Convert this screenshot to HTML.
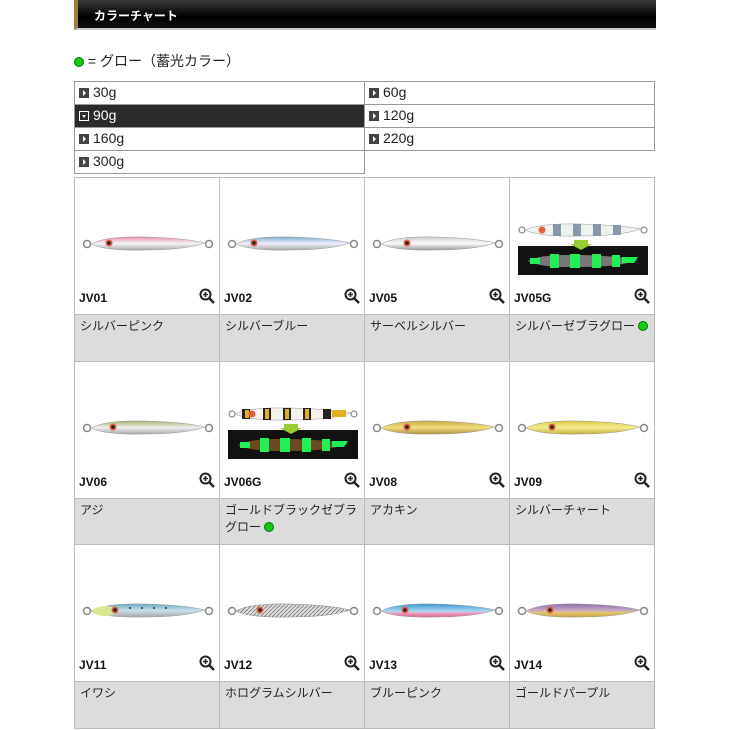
<!DOCTYPE html>
<html><head><meta charset="utf-8"><style>
*{margin:0;padding:0;box-sizing:border-box}
body{width:730px;height:730px;background:#fff;position:relative;font-family:"Liberation Sans","Noto Sans CJK JP",sans-serif;overflow:hidden}
.hdr{position:absolute;left:74px;top:0;width:582px;height:30px;background:linear-gradient(#3a3a3a,#000 60%,#111);border-left:4px solid #a08040;border-bottom:2px solid #ccc}
.hdr span{position:absolute;left:16px;top:7px;color:#fff;font-size:12px;font-weight:bold}
.legend{position:absolute;left:74px;top:51px;font-size:14px;color:#222}
.dot{display:inline-block;width:10px;height:10px;border-radius:50%;background:#1c1;border:1px solid #070;vertical-align:-1px}
.sz{position:absolute;height:24px;border:1px solid #999;font-size:14px;color:#222;padding:2px 0 0 4px;background:#fff}
.sz i{display:inline-block;width:10px;height:10px;background:#444;margin-right:4px;vertical-align:-1px;position:relative}
.sz i:after{content:"";position:absolute;left:4px;top:2px;border-left:3px solid #fff;border-top:3px solid transparent;border-bottom:3px solid transparent}
.sz.on{background:#2b2b2b;color:#fff}
.sz.on i{background:#2b2b2b;border:1px solid #fff}
.sz.on i:after{left:1.5px;top:3px;border-top:3px solid #fff;border-left:2.5px solid transparent;border-right:2.5px solid transparent;border-bottom:0}
.cell{position:absolute;width:146px;height:185px;border:1px solid #bbb;background:#fff}
.cell .g{position:absolute;left:0;right:0;bottom:0;height:47px;background:#dcdcdc;border-top:1px solid #bbb;font-size:12px;color:#222;padding:3px 5px;line-height:17px}
.cell .c{position:absolute;left:4px;top:113px;font-size:12px;font-weight:bold;color:#111}
.cell .z{position:absolute;right:4px;top:110px;width:16px;height:16px}
.cell svg.l{position:absolute;left:0;top:0}
</style></head><body>
<div class="hdr"><span>カラーチャート</span></div>
<div class="legend"><span class="dot"></span> = グロー（蓄光カラー）</div>

<div class="sz" style="left:74px;top:81px;width:291px"><i></i>30g</div>
<div class="sz on" style="left:74px;top:104px;width:291px"><i></i>90g</div>
<div class="sz" style="left:74px;top:127px;width:291px"><i></i>160g</div>
<div class="sz" style="left:74px;top:150px;width:291px"><i></i>300g</div>
<div class="sz" style="left:364px;top:81px;width:291px"><i></i>60g</div>
<div class="sz" style="left:364px;top:104px;width:291px"><i></i>120g</div>
<div class="sz" style="left:364px;top:127px;width:291px"><i></i>220g</div>

<svg width="0" height="0" style="position:absolute"><defs>
<symbol id="zm" viewBox="0 0 16 16"><circle cx="6.5" cy="6.5" r="5" fill="none" stroke="#222" stroke-width="2"/><path d="M10 10L15 15" stroke="#222" stroke-width="2.5"/><path d="M4 6.5h5M6.5 4v5" stroke="#222" stroke-width="1.6"/></symbol>
</defs></svg>

<div class="cell" style="left:74px;top:177px"><svg class="l" width="146" height="137"><defs><linearGradient id="a1" x1="0" y1="0" x2="0" y2="1"><stop offset="0" stop-color="#e890a8"/><stop offset=".5" stop-color="#f4f4f4"/><stop offset="1" stop-color="#aaa"/></linearGradient></defs><circle cx="12" cy="66" r="3.5" fill="none" stroke="#888" stroke-width="1.5"/><circle cx="134" cy="66" r="3.5" fill="none" stroke="#888" stroke-width="1.5"/><path d="M16,66 Q30,58 70,59 Q110,60 130,65 Q110,72 70,72 Q30,73 16,66Z" fill="url(#a1)" stroke="#999" stroke-width=".5"/><circle cx="34" cy="65" r="3.5" fill="#e06040"/><circle cx="34" cy="65" r="1.7" fill="#222"/></svg><div class="c">JV01</div><svg class="z"><use href="#zm"/></svg><div class="g">シルバーピンク</div></div>

<div class="cell" style="left:219px;top:177px"><svg class="l" width="146" height="137"><defs><linearGradient id="a2" x1="0" y1="0" x2="0" y2="1"><stop offset="0" stop-color="#80b0cc"/><stop offset=".5" stop-color="#eef"/><stop offset="1" stop-color="#aaa"/></linearGradient></defs><circle cx="12" cy="66" r="3.5" fill="none" stroke="#888" stroke-width="1.5"/><circle cx="134" cy="66" r="3.5" fill="none" stroke="#888" stroke-width="1.5"/><path d="M16,66 Q30,58 70,59 Q110,60 130,65 Q110,72 70,72 Q30,73 16,66Z" fill="url(#a2)" stroke="#999" stroke-width=".5"/><circle cx="34" cy="65" r="3.5" fill="#e06040"/><circle cx="34" cy="65" r="1.7" fill="#222"/></svg><div class="c">JV02</div><svg class="z"><use href="#zm"/></svg><div class="g">シルバーブルー</div></div>

<div class="cell" style="left:364px;top:177px"><svg class="l" width="146" height="137"><defs><linearGradient id="a3" x1="0" y1="0" x2="0" y2="1"><stop offset="0" stop-color="#ccc"/><stop offset=".5" stop-color="#fafafa"/><stop offset="1" stop-color="#999"/></linearGradient></defs><circle cx="12" cy="66" r="3.5" fill="none" stroke="#888" stroke-width="1.5"/><circle cx="134" cy="66" r="3.5" fill="none" stroke="#888" stroke-width="1.5"/><path d="M16,66 Q30,58 70,59 Q110,60 130,65 Q110,72 70,72 Q30,73 16,66Z" fill="url(#a3)" stroke="#999" stroke-width=".5"/><circle cx="42" cy="65" r="3.5" fill="#e06040"/><circle cx="42" cy="65" r="1.7" fill="#222"/></svg><div class="c">JV05</div><svg class="z"><use href="#zm"/></svg><div class="g">サーベルシルバー</div></div>

<div class="cell" style="left:509px;top:177px"><svg class="l" width="146" height="137"><circle cx="12" cy="52" r="3" fill="none" stroke="#888" stroke-width="1.2"/><circle cx="134" cy="52" r="3" fill="none" stroke="#888" stroke-width="1.2"/><path d="M15,52 Q30,45 70,46 Q110,47 131,51 Q110,58 70,58 Q30,59 15,52Z" fill="#eef2ee" stroke="#999" stroke-width=".5"/><g fill="#8898a8"><rect x="43" y="46" width="8" height="12"/><rect x="63" y="46" width="8" height="12"/><rect x="83" y="46" width="8" height="12"/><rect x="103" y="47" width="8" height="10"/></g><circle cx="32" cy="52" r="3.5" fill="#e06040"/><rect x="8" y="68" width="130" height="29" fill="#111"/><path d="M64,62h14v4h4l-11,6-11-6h4z" fill="#9c3"/><path d="M18,83 Q30,76 70,77 Q110,78 128,82 Q110,89 70,89 Q30,90 18,83Z" fill="#777"/><g fill="#2e5"><rect x="40" y="76" width="9" height="14"/><rect x="60" y="76" width="10" height="14"/><rect x="82" y="76" width="9" height="14"/><rect x="102" y="77" width="8" height="12"/><path d="M112,79h16l-4,6h-12z"/><rect x="20" y="80" width="10" height="6"/></g></svg><div class="c">JV05G</div><svg class="z"><use href="#zm"/></svg><div class="g">シルバーゼブラグロー <span class="dot"></span></div></div>

<div class="cell" style="left:74px;top:361px"><svg class="l" width="146" height="137"><defs><linearGradient id="b1" x1="0" y1="0" x2="0" y2="1"><stop offset="0" stop-color="#a8b070"/><stop offset=".5" stop-color="#eee"/><stop offset="1" stop-color="#aaa"/></linearGradient></defs><circle cx="12" cy="66" r="3.5" fill="none" stroke="#888" stroke-width="1.5"/><circle cx="134" cy="66" r="3.5" fill="none" stroke="#888" stroke-width="1.5"/><path d="M16,66 Q30,58 70,59 Q110,60 130,65 Q110,72 70,72 Q30,73 16,66Z" fill="url(#b1)" stroke="#999" stroke-width=".5"/><circle cx="38" cy="65" r="3.5" fill="#e06040"/><circle cx="38" cy="65" r="1.7" fill="#222"/></svg><div class="c">JV06</div><svg class="z"><use href="#zm"/></svg><div class="g">アジ</div></div>

<div class="cell" style="left:219px;top:361px"><svg class="l" width="146" height="137"><circle cx="12" cy="52" r="3" fill="none" stroke="#888" stroke-width="1.2"/><circle cx="134" cy="52" r="3" fill="none" stroke="#888" stroke-width="1.2"/><path d="M15,52 Q30,45 70,46 Q110,47 131,51 Q110,58 70,58 Q30,59 15,52Z" fill="#f4f4ea" stroke="#999" stroke-width=".5"/><g fill="#222"><rect x="22" y="47" width="8" height="10"/><rect x="43" y="46" width="8" height="12"/><rect x="63" y="46" width="8" height="12"/><rect x="83" y="46" width="8" height="12"/><rect x="103" y="47" width="8" height="10"/></g><g fill="#e0b020"><rect x="25" y="48" width="4" height="8"/><rect x="45" y="47" width="4" height="10"/><rect x="65" y="47" width="4" height="10"/><rect x="85" y="47" width="4" height="10"/><rect x="112" y="48" width="14" height="7"/></g><circle cx="32" cy="52" r="3.5" fill="#e06040"/><rect x="8" y="68" width="130" height="29" fill="#111"/><path d="M64,62h14v4h4l-11,6-11-6h4z" fill="#9c3"/><path d="M18,83 Q30,76 70,77 Q110,78 128,82 Q110,89 70,89 Q30,90 18,83Z" fill="#6a4a20"/><g fill="#2e5"><rect x="40" y="76" width="9" height="14"/><rect x="60" y="76" width="10" height="14"/><rect x="82" y="76" width="9" height="14"/><rect x="102" y="77" width="8" height="12"/><path d="M112,79h16l-4,6h-12z"/><rect x="20" y="80" width="10" height="6"/></g></svg><div class="c">JV06G</div><svg class="z"><use href="#zm"/></svg><div class="g">ゴールドブラックゼブラグロー <span class="dot"></span></div></div>

<div class="cell" style="left:364px;top:361px"><svg class="l" width="146" height="137"><defs><linearGradient id="b3" x1="0" y1="0" x2="0" y2="1"><stop offset="0" stop-color="#c8a840"/><stop offset=".5" stop-color="#f0e080"/><stop offset="1" stop-color="#b09040"/></linearGradient></defs><circle cx="12" cy="66" r="3.5" fill="none" stroke="#888" stroke-width="1.5"/><circle cx="134" cy="66" r="3.5" fill="none" stroke="#888" stroke-width="1.5"/><path d="M16,66 Q30,58 70,59 Q110,60 130,65 Q110,72 70,72 Q30,73 16,66Z" fill="url(#b3)" stroke="#999" stroke-width=".5"/><circle cx="42" cy="65" r="3.5" fill="#e06040"/><circle cx="42" cy="65" r="1.7" fill="#222"/></svg><div class="c">JV08</div><svg class="z"><use href="#zm"/></svg><div class="g">アカキン</div></div>

<div class="cell" style="left:509px;top:361px"><svg class="l" width="146" height="137"><defs><linearGradient id="b4" x1="0" y1="0" x2="0" y2="1"><stop offset="0" stop-color="#d8c840"/><stop offset=".5" stop-color="#f4ec90"/><stop offset="1" stop-color="#c8b040"/></linearGradient></defs><circle cx="12" cy="66" r="3.5" fill="none" stroke="#888" stroke-width="1.5"/><circle cx="134" cy="66" r="3.5" fill="none" stroke="#888" stroke-width="1.5"/><path d="M16,66 Q30,58 70,59 Q110,60 130,65 Q110,72 70,72 Q30,73 16,66Z" fill="url(#b4)" stroke="#999" stroke-width=".5"/><circle cx="42" cy="65" r="3.5" fill="#e06040"/><circle cx="42" cy="65" r="1.7" fill="#222"/></svg><div class="c">JV09</div><svg class="z"><use href="#zm"/></svg><div class="g">シルバーチャート</div></div>

<div class="cell" style="left:74px;top:544px"><svg class="l" width="146" height="137"><defs><linearGradient id="c1" x1="0" y1="0" x2="0" y2="1"><stop offset="0" stop-color="#6aa8c0"/><stop offset=".5" stop-color="#c8e0e8"/><stop offset="1" stop-color="#aaa"/></linearGradient></defs><circle cx="12" cy="66" r="3.5" fill="none" stroke="#888" stroke-width="1.5"/><circle cx="134" cy="66" r="3.5" fill="none" stroke="#888" stroke-width="1.5"/><path d="M16,66 Q30,58 70,59 Q110,60 130,65 Q110,72 70,72 Q30,73 16,66Z" fill="url(#c1)" stroke="#999" stroke-width=".5"/><ellipse cx="30" cy="66" rx="12" ry="5" fill="#d8e890"/><circle cx="40" cy="65" r="3.5" fill="#e06040"/><circle cx="40" cy="65" r="1.7" fill="#222"/><g fill="#234"><circle cx="55" cy="63" r="1"/><circle cx="67" cy="63" r="1"/><circle cx="79" cy="63" r="1"/><circle cx="91" cy="63" r="1"/></g></svg><div class="c">JV11</div><svg class="z"><use href="#zm"/></svg><div class="g">イワシ</div></div>

<div class="cell" style="left:219px;top:544px"><svg class="l" width="146" height="137"><defs><pattern id="h" width="4" height="4" patternUnits="userSpaceOnUse"><rect width="4" height="4" fill="#ddd"/><path d="M0,4L4,0" stroke="#777" stroke-width=".8"/></pattern></defs><circle cx="12" cy="66" r="3.5" fill="none" stroke="#888" stroke-width="1.5"/><circle cx="134" cy="66" r="3.5" fill="none" stroke="#888" stroke-width="1.5"/><path d="M16,66 Q30,58 70,59 Q110,60 130,65 Q110,72 70,72 Q30,73 16,66Z" fill="url(#h)" stroke="#888" stroke-width=".5"/><circle cx="40" cy="65" r="3.5" fill="#e06040"/><circle cx="40" cy="65" r="1.7" fill="#222"/></svg><div class="c">JV12</div><svg class="z"><use href="#zm"/></svg><div class="g">ホログラムシルバー</div></div>

<div class="cell" style="left:364px;top:544px"><svg class="l" width="146" height="137"><defs><linearGradient id="c3" x1="0" y1="0" x2="0" y2="1"><stop offset="0" stop-color="#3a98d0"/><stop offset=".55" stop-color="#a8d8f0"/><stop offset=".7" stop-color="#f0a0c0"/><stop offset="1" stop-color="#d86090"/></linearGradient></defs><circle cx="12" cy="66" r="3.5" fill="none" stroke="#888" stroke-width="1.5"/><circle cx="134" cy="66" r="3.5" fill="none" stroke="#888" stroke-width="1.5"/><path d="M16,66 Q30,58 70,59 Q110,60 130,65 Q110,72 70,72 Q30,73 16,66Z" fill="url(#c3)" stroke="#999" stroke-width=".5"/><circle cx="40" cy="65" r="3.5" fill="#e06040"/><circle cx="40" cy="65" r="1.7" fill="#222"/></svg><div class="c">JV13</div><svg class="z"><use href="#zm"/></svg><div class="g">ブルーピンク</div></div>

<div class="cell" style="left:509px;top:544px"><svg class="l" width="146" height="137"><defs><linearGradient id="c4" x1="0" y1="0" x2="0" y2="1"><stop offset="0" stop-color="#9070a8"/><stop offset=".5" stop-color="#c8a8c8"/><stop offset=".65" stop-color="#e0c870"/><stop offset="1" stop-color="#c8a040"/></linearGradient></defs><circle cx="12" cy="66" r="3.5" fill="none" stroke="#888" stroke-width="1.5"/><circle cx="134" cy="66" r="3.5" fill="none" stroke="#888" stroke-width="1.5"/><path d="M16,66 Q30,58 70,59 Q110,60 130,65 Q110,72 70,72 Q30,73 16,66Z" fill="url(#c4)" stroke="#999" stroke-width=".5"/><circle cx="40" cy="65" r="3.5" fill="#e06040"/><circle cx="40" cy="65" r="1.7" fill="#222"/></svg><div class="c">JV14</div><svg class="z"><use href="#zm"/></svg><div class="g">ゴールドパープル</div></div>

</body></html>
